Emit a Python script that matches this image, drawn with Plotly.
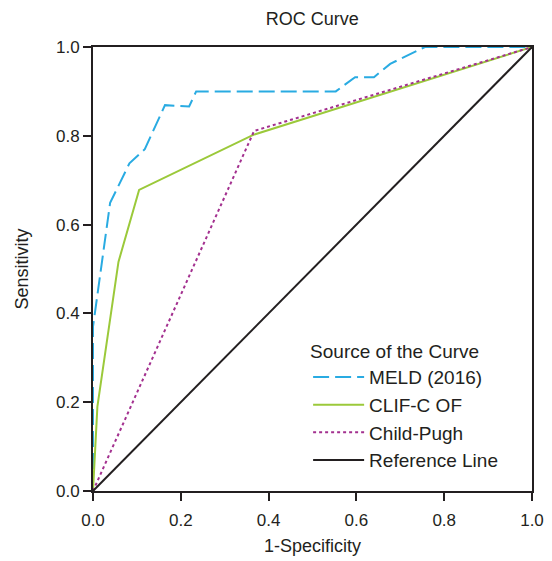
import plotly.graph_objects as go

# ROC points (1-specificity, sensitivity)
meld_fpr = [0.0, 0.0, 0.039, 0.083, 0.118, 0.164, 0.219, 0.235, 0.553, 0.597, 0.64, 0.677, 0.756, 1.0]
meld_tpr = [0.0, 0.37, 0.649, 0.738, 0.77, 0.869, 0.866, 0.90, 0.90, 0.932, 0.932, 0.962, 1.0, 1.0]

clif_fpr = [0.0, 0.01, 0.058, 0.105, 0.365, 1.0]
clif_tpr = [0.0, 0.19, 0.516, 0.678, 0.802, 1.0]

child_fpr = [0.0, 0.367, 1.0]
child_tpr = [0.0, 0.811, 1.0]

ref_x = [0.0, 1.0]
ref_y = [0.0, 1.0]

tick_vals = [0.0, 0.2, 0.4, 0.6, 0.8, 1.0]
tick_text = ["0.0", "0.2", "0.4", "0.6", "0.8", "1.0"]

font = "Liberation Sans, Arial, sans-serif"

fig = go.Figure()
fig.add_trace(go.Scatter(x=meld_fpr, y=meld_tpr, mode="lines", name="MELD (2016)",
                         line=dict(color="#29abe2", width=2, dash="16px,6px")))
fig.add_trace(go.Scatter(x=clif_fpr, y=clif_tpr, mode="lines", name="CLIF-C OF",
                         line=dict(color="#9bc93a", width=2)))
fig.add_trace(go.Scatter(x=child_fpr, y=child_tpr, mode="lines", name="Child-Pugh",
                         line=dict(color="#a3308f", width=2, dash="dot")))
fig.add_trace(go.Scatter(x=ref_x, y=ref_y, mode="lines", name="Reference Line",
                         line=dict(color="#231f20", width=2)))

axis_style = dict(
    range=[0, 1], tickvals=tick_vals, ticktext=tick_text,
    showgrid=False, zeroline=False,
    showline=True, linecolor="#231f20", linewidth=2, mirror=True,
    ticks="outside", ticklen=8, tickwidth=2, tickcolor="#231f20",
    tickfont=dict(size=17, color="#231f20"),
)

# the page body adds 8px around the figure, so margins are shifted to match
fig.update_layout(
    width=552, height=561,
    margin=dict(l=85, r=28, t=39, b=78),
    plot_bgcolor="white", paper_bgcolor="white",
    font=dict(family=font, color="#231f20"),
    title=dict(text="ROC Curve", x=0.551, xanchor="center", y=0.981, yanchor="middle",
               font=dict(size=18)),
    xaxis=dict(axis_style, ticklabelstandoff=5,
               title=dict(text="1-Specificity", font=dict(size=18), standoff=10)),
    yaxis=dict(axis_style, title=dict(text="Sensitivity", font=dict(size=18), standoff=23)),
    legend=dict(x=0.49, y=0.355, xanchor="left", yanchor="top",
                bgcolor="rgba(0,0,0,0)", itemwidth=51,
                title=dict(text="Source of the Curve", font=dict(size=19)),
                font=dict(size=19)),
)

fig.write_html("out.html")
